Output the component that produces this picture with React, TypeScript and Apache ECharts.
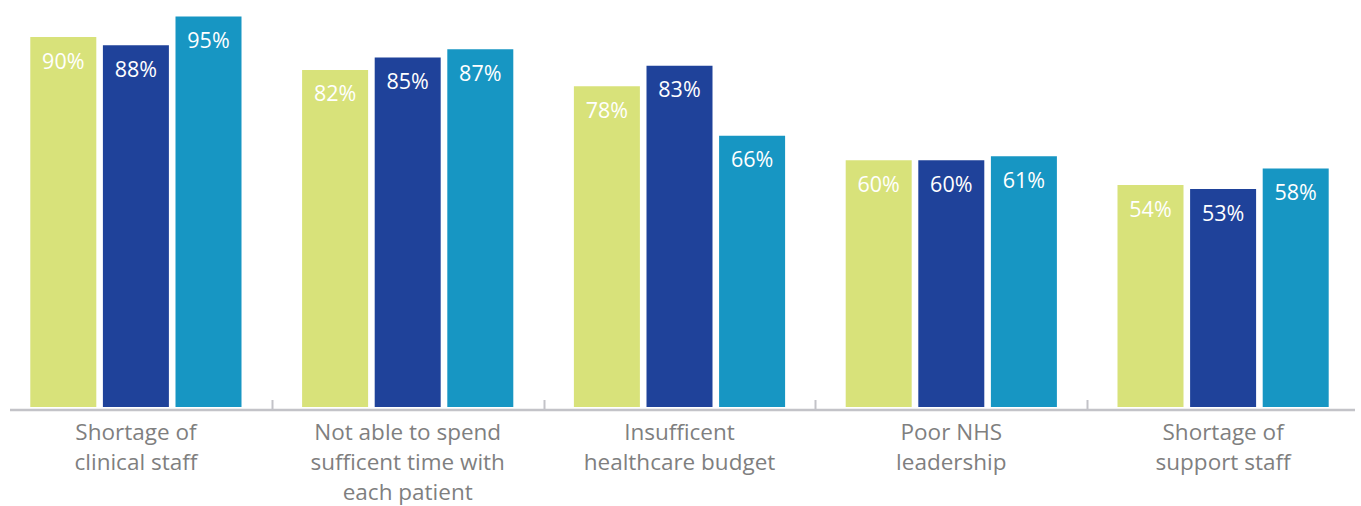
import React, { useEffect, useRef } from "react";
import * as echarts from "echarts";

const categories = [
  "Shortage of\nclinical staff",
  "Not able to spend\nsufficent time with\neach patient",
  "Insufficent\nhealthcare budget",
  "Poor NHS\nleadership",
  "Shortage of\nsupport staff",
];
const seriesNames = ["Group 1", "Group 2", "Group 3"];
const series1 = [90, 82, 78, 60, 54];
const series2 = [88, 85, 83, 60, 53];
const series3 = [95, 87, 66, 61, 58];
const colors = ["#d8e27a", "#1f429a", "#1796c3"];

export default function App() {
  const ref = useRef<HTMLDivElement>(null);
  useEffect(() => {
    document.body.style.margin = "0";
    const chart = echarts.init(ref.current!, null, { renderer: "svg" });
    const W = 1361;
    const gridLeft = 0;
    const gridRight = 2;
    const axisY = 410;
    const catW = (W - gridLeft - gridRight) / categories.length;
    const ticks = [];
    for (let i = 1; i < categories.length; i++) {
      const x = Math.round(gridLeft + catW * i) + 0.5;
      ticks.push({
        type: "line",
        shape: { x1: x, y1: axisY - 10, x2: x, y2: axisY },
        style: { stroke: "#c3c3c8", lineWidth: 2 },
        silent: true,
      });
    }
    const label = {
      show: true,
      position: "insideTop",
      distance: 12,
      color: "#ffffff",
      fontFamily: "Open Sans",
      fontSize: 21.5,
      formatter: "{c}%",
    };
    const data = [series1, series2, series3];
    chart.setOption({
      animation: false,
      grid: { left: gridLeft, right: gridRight, top: 0, bottom: 506 - 409.5, containLabel: false },
      xAxis: {
        type: "category",
        data: categories,
        axisLine: { show: false },
        axisTick: { show: false },
        axisLabel: {
          color: "#7f7f7f",
          fontFamily: "Open Sans",
          fontSize: 22.5,
          lineHeight: 30,
          margin: 9,
          interval: 0,
        },
      },
      yAxis: {
        type: "value",
        min: 0,
        max: 99,
        show: false,
        splitLine: { show: false },
      },
      series: data.map((d, i) => ({
        type: "bar",
        name: seriesNames[i],
        data: d,
        barWidth: 66,
        barGap: "10%",
        itemStyle: { color: colors[i] },
        label,
      })),
      graphic: [
        {
          type: "line",
          shape: { x1: 10, y1: axisY, x2: 1355, y2: axisY },
          style: { stroke: "#c3c3c8", lineWidth: 2.5 },
          silent: true,
        },
        ...ticks,
      ],
    });
    return () => chart.dispose();
  }, []);
  return <div ref={ref} style={{ width: 1361, height: 506 }} />;
}
